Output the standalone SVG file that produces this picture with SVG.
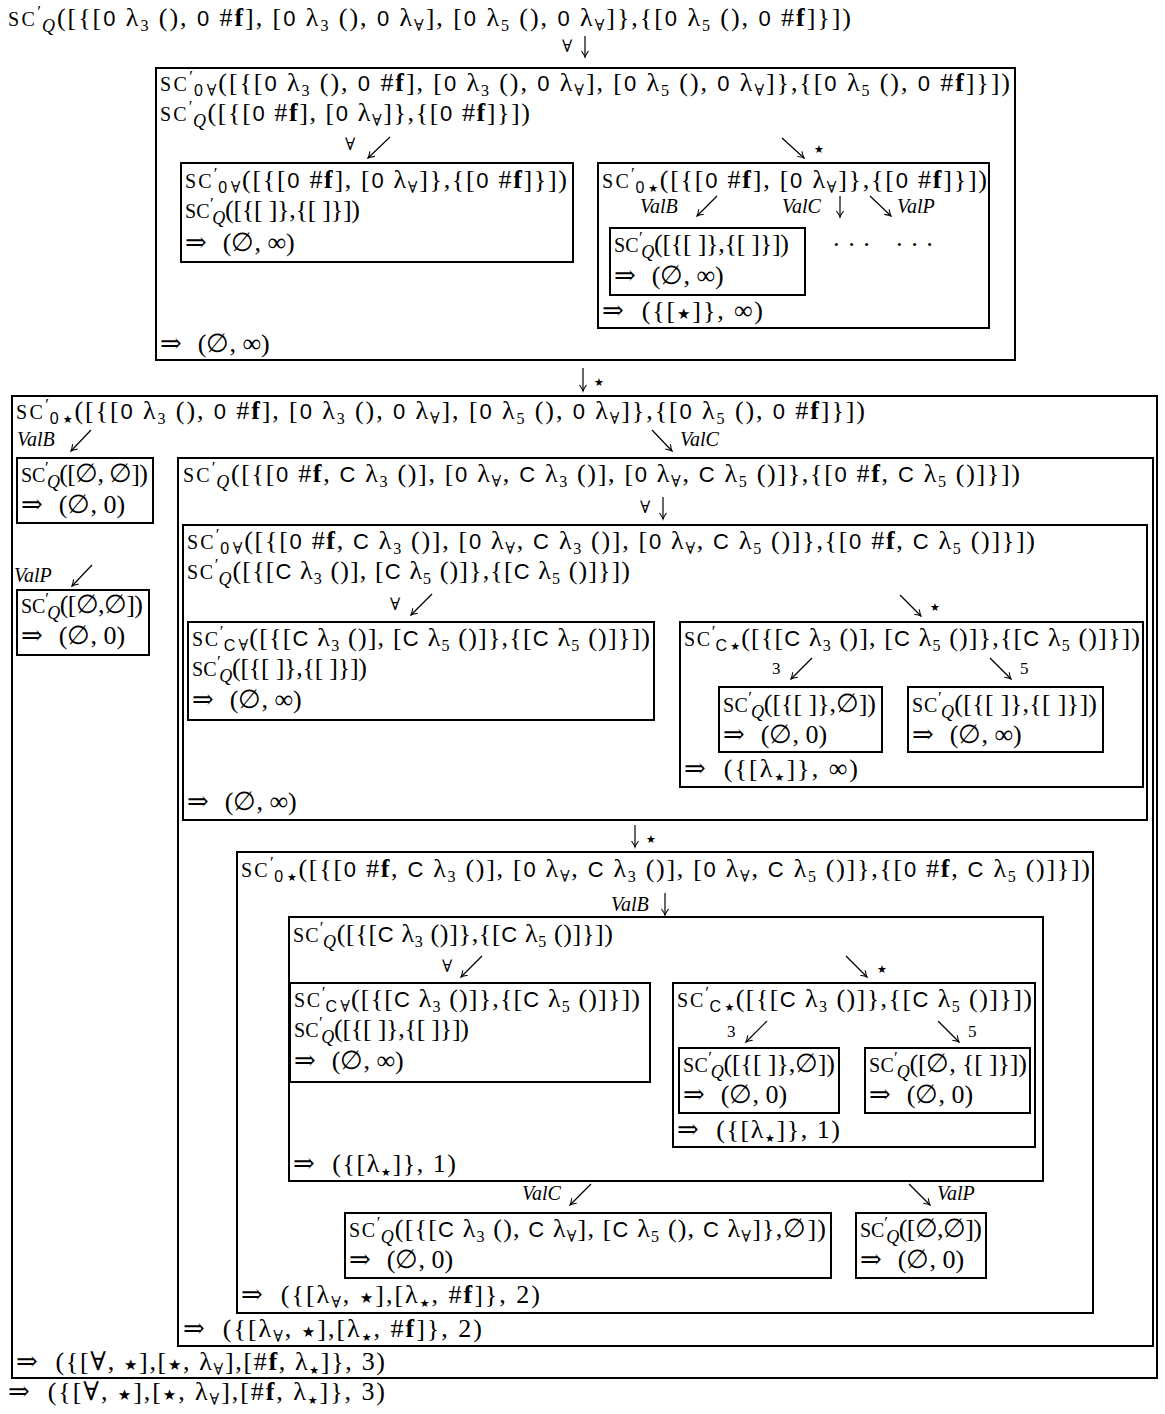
<svg xmlns="http://www.w3.org/2000/svg" width="1165" height="1414" viewBox="0 0 1165 1414">
<style>
.m{font-family:"Liberation Serif","DejaVu Serif",serif;font-size:26px;fill:#000}
.sc{font-size:20px;letter-spacing:0.5px}
.pr{font-size:17px;baseline-shift:9px}
.q{font-size:18px;font-style:italic;baseline-shift:-6px}
.lo{font-size:16px;baseline-shift:-5px}
.sf{font-family:"Liberation Sans","DejaVu Sans",sans-serif;font-size:22px}
.ls{font-family:"Liberation Sans","DejaVu Sans",sans-serif;font-size:16px;baseline-shift:-5px}
.st{font-family:"DejaVu Sans",sans-serif;font-size:15px}
.los{font-family:"DejaVu Sans",sans-serif;font-size:11px;baseline-shift:-4px}
.b{font-weight:bold}
.lb{font-family:"Liberation Serif","DejaVu Serif",serif;font-size:17px;fill:#000}
.ls2{font-family:"DejaVu Sans",sans-serif;font-size:11px;fill:#000}
.it{font-style:italic;font-size:20px}
.bx{fill:none;stroke:#000;stroke-width:2}
.ar{fill:none;stroke:#000;stroke-width:1.2;marker-end:url(#ah)}
</style>
<defs>
<marker id="ah" viewBox="-8 -5 10 10" refX="0" refY="0" markerWidth="10" markerHeight="10" markerUnits="userSpaceOnUse" orient="auto">
<path d="M-6,-3.5 Q-2,-0.6 0,0 Q-2,0.6 -6,3.5" fill="none" stroke="#000" stroke-width="1.1"/>
</marker>
</defs>
<rect width="1165" height="1414" fill="#fff"/>

<g id="root">
<text class="m" x="8" y="26" textLength="843"><tspan class="sc">SC</tspan><tspan class="pr">′</tspan><tspan class="q" dx="-1">Q</tspan>([{[<tspan class="sf">0</tspan> λ<tspan class="lo">3</tspan> (), <tspan class="sf">0</tspan> #<tspan class="b">f</tspan>], [<tspan class="sf">0</tspan> λ<tspan class="lo">3</tspan> (), <tspan class="sf">0</tspan> λ<tspan class="lo">∀</tspan>], [<tspan class="sf">0</tspan> λ<tspan class="lo">5</tspan> (), <tspan class="sf">0</tspan> λ<tspan class="lo">∀</tspan>]},{[<tspan class="sf">0</tspan> λ<tspan class="lo">5</tspan> (), <tspan class="sf">0</tspan> #<tspan class="b">f</tspan>]}])</text>
</g>

<g id="nodeA">
<rect class="bx" x="156" y="68" width="859" height="292"/>
<text class="m" x="160" y="91" textLength="850"><tspan class="sc">SC</tspan><tspan class="pr">′</tspan><tspan class="ls" dx="-1">0</tspan><tspan class="lo" dx="2">∀</tspan>([{[<tspan class="sf">0</tspan> λ<tspan class="lo">3</tspan> (), <tspan class="sf">0</tspan> #<tspan class="b">f</tspan>], [<tspan class="sf">0</tspan> λ<tspan class="lo">3</tspan> (), <tspan class="sf">0</tspan> λ<tspan class="lo">∀</tspan>], [<tspan class="sf">0</tspan> λ<tspan class="lo">5</tspan> (), <tspan class="sf">0</tspan> λ<tspan class="lo">∀</tspan>]},{[<tspan class="sf">0</tspan> λ<tspan class="lo">5</tspan> (), <tspan class="sf">0</tspan> #<tspan class="b">f</tspan>]}])</text>
<text class="m" x="160" y="121" textLength="370"><tspan class="sc">SC</tspan><tspan class="pr">′</tspan><tspan class="q" dx="-1">Q</tspan>([{[<tspan class="sf">0</tspan> #<tspan class="b">f</tspan>], [<tspan class="sf">0</tspan> λ<tspan class="lo">∀</tspan>]},{[<tspan class="sf">0</tspan> #<tspan class="b">f</tspan>]}])</text>
<text class="m" x="160" y="352">⇒<tspan dx="16">(∅, ∞)</tspan></text>
</g>

<g id="nodeA1">
<rect class="bx" x="181" y="163" width="392" height="99"/>
<text class="m" x="185" y="188" textLength="382"><tspan class="sc">SC</tspan><tspan class="pr">′</tspan><tspan class="ls" dx="-1">0</tspan><tspan class="lo" dx="2">∀</tspan>([{[<tspan class="sf">0</tspan> #<tspan class="b">f</tspan>], [<tspan class="sf">0</tspan> λ<tspan class="lo">∀</tspan>]},{[<tspan class="sf">0</tspan> #<tspan class="b">f</tspan>]}])</text>
<text class="m" x="185" y="218" textLength="175"><tspan class="sc">SC</tspan><tspan class="pr">′</tspan><tspan class="q" dx="-1">Q</tspan>([{[ ]},{[ ]}])</text>
<text class="m" x="185" y="251">⇒<tspan dx="16">(∅, ∞)</tspan></text>
</g>

<g id="nodeA2">
<rect class="bx" x="598" y="163" width="391" height="165"/>
<text class="m" x="602" y="188" textLength="385"><tspan class="sc">SC</tspan><tspan class="pr">′</tspan><tspan class="ls" dx="-1">0</tspan><tspan class="los" dx="2">★</tspan>([{[<tspan class="sf">0</tspan> #<tspan class="b">f</tspan>], [<tspan class="sf">0</tspan> λ<tspan class="lo">∀</tspan>]},{[<tspan class="sf">0</tspan> #<tspan class="b">f</tspan>]}])</text>
<text class="m" x="832" y="253">· · ·</text>
<text class="m" x="895" y="253">· · ·</text>
<text class="m" x="602" y="319" textLength="161">⇒<tspan dx="16">({[<tspan class="st">★</tspan>]}, ∞)</tspan></text>
</g>

<g id="nodeA2a">
<rect class="bx" x="610" y="228" width="195" height="67"/>
<text class="m" x="614" y="252" textLength="175"><tspan class="sc">SC</tspan><tspan class="pr">′</tspan><tspan class="q" dx="-1">Q</tspan>([{[ ]},{[ ]}])</text>
<text class="m" x="614" y="284">⇒<tspan dx="16">(∅, ∞)</tspan></text>
</g>

<g id="nodeB">
<rect class="bx" x="12" y="396" width="1145" height="982"/>
<text class="m" x="16" y="419" textLength="849"><tspan class="sc">SC</tspan><tspan class="pr">′</tspan><tspan class="ls" dx="-1">0</tspan><tspan class="los" dx="2">★</tspan>([{[<tspan class="sf">0</tspan> λ<tspan class="lo">3</tspan> (), <tspan class="sf">0</tspan> #<tspan class="b">f</tspan>], [<tspan class="sf">0</tspan> λ<tspan class="lo">3</tspan> (), <tspan class="sf">0</tspan> λ<tspan class="lo">∀</tspan>], [<tspan class="sf">0</tspan> λ<tspan class="lo">5</tspan> (), <tspan class="sf">0</tspan> λ<tspan class="lo">∀</tspan>]},{[<tspan class="sf">0</tspan> λ<tspan class="lo">5</tspan> (), <tspan class="sf">0</tspan> #<tspan class="b">f</tspan>]}])</text>
<text class="m" x="16" y="1370" textLength="369">⇒<tspan dx="16">({[∀, <tspan class="st">★</tspan>],[<tspan class="st">★</tspan>, λ<tspan class="lo">∀</tspan>],[#<tspan class="b">f</tspan>, λ<tspan class="los">★</tspan>]}, 3)</tspan></text>
</g>

<g id="nodeB1">
<rect class="bx" x="17" y="458" width="136" height="65"/>
<text class="m" x="21" y="482" textLength="127"><tspan class="sc">SC</tspan><tspan class="pr">′</tspan><tspan class="q" dx="-1">Q</tspan>([∅, ∅])</text>
<text class="m" x="21" y="513">⇒<tspan dx="16">(∅, 0)</tspan></text>
</g>

<g id="nodeB2">
<rect class="bx" x="17" y="590" width="132" height="65"/>
<text class="m" x="21" y="613" textLength="122"><tspan class="sc">SC</tspan><tspan class="pr">′</tspan><tspan class="q" dx="-1">Q</tspan>([∅,∅])</text>
<text class="m" x="21" y="644">⇒<tspan dx="16">(∅, 0)</tspan></text>
</g>

<g id="nodeC">
<rect class="bx" x="178" y="458" width="975" height="888"/>
<text class="m" x="183" y="482" textLength="837"><tspan class="sc">SC</tspan><tspan class="pr">′</tspan><tspan class="q" dx="-1">Q</tspan>([{[<tspan class="sf">0</tspan> #<tspan class="b">f</tspan>, <tspan class="sf">C</tspan> λ<tspan class="lo">3</tspan> ()], [<tspan class="sf">0</tspan> λ<tspan class="lo">∀</tspan>, <tspan class="sf">C</tspan> λ<tspan class="lo">3</tspan> ()], [<tspan class="sf">0</tspan> λ<tspan class="lo">∀</tspan>, <tspan class="sf">C</tspan> λ<tspan class="lo">5</tspan> ()]},{[<tspan class="sf">0</tspan> #<tspan class="b">f</tspan>, <tspan class="sf">C</tspan> λ<tspan class="lo">5</tspan> ()]}])</text>
<text class="m" x="183" y="1337" textLength="299">⇒<tspan dx="16">({[λ<tspan class="lo">∀</tspan>, <tspan class="st">★</tspan>],[λ<tspan class="los">★</tspan>, #<tspan class="b">f</tspan>]}, 2)</tspan></text>
</g>

<g id="nodeC1">
<rect class="bx" x="183" y="525" width="964" height="295"/>
<text class="m" x="187" y="549" textLength="848"><tspan class="sc">SC</tspan><tspan class="pr">′</tspan><tspan class="ls" dx="-1">0</tspan><tspan class="lo" dx="2">∀</tspan>([{[<tspan class="sf">0</tspan> #<tspan class="b">f</tspan>, <tspan class="sf">C</tspan> λ<tspan class="lo">3</tspan> ()], [<tspan class="sf">0</tspan> λ<tspan class="lo">∀</tspan>, <tspan class="sf">C</tspan> λ<tspan class="lo">3</tspan> ()], [<tspan class="sf">0</tspan> λ<tspan class="lo">∀</tspan>, <tspan class="sf">C</tspan> λ<tspan class="lo">5</tspan> ()]},{[<tspan class="sf">0</tspan> #<tspan class="b">f</tspan>, <tspan class="sf">C</tspan> λ<tspan class="lo">5</tspan> ()]}])</text>
<text class="m" x="187" y="579" textLength="443"><tspan class="sc">SC</tspan><tspan class="pr">′</tspan><tspan class="q" dx="-1">Q</tspan>([{[<tspan class="sf">C</tspan> λ<tspan class="lo">3</tspan> ()], [<tspan class="sf">C</tspan> λ<tspan class="lo">5</tspan> ()]},{[<tspan class="sf">C</tspan> λ<tspan class="lo">5</tspan> ()]}])</text>
<text class="m" x="187" y="810">⇒<tspan dx="16">(∅, ∞)</tspan></text>
</g>

<g id="nodeC1a">
<rect class="bx" x="188" y="622" width="466" height="98"/>
<text class="m" x="192" y="646" textLength="458"><tspan class="sc">SC</tspan><tspan class="pr">′</tspan><tspan class="ls" dx="-1">C</tspan><tspan class="lo" dx="2">∀</tspan>([{[<tspan class="sf">C</tspan> λ<tspan class="lo">3</tspan> ()], [<tspan class="sf">C</tspan> λ<tspan class="lo">5</tspan> ()]},{[<tspan class="sf">C</tspan> λ<tspan class="lo">5</tspan> ()]}])</text>
<text class="m" x="192" y="676" textLength="175"><tspan class="sc">SC</tspan><tspan class="pr">′</tspan><tspan class="q" dx="-1">Q</tspan>([{[ ]},{[ ]}])</text>
<text class="m" x="192" y="708">⇒<tspan dx="16">(∅, ∞)</tspan></text>
</g>

<g id="nodeC1b">
<rect class="bx" x="680" y="622" width="463" height="165"/>
<text class="m" x="684" y="646" textLength="456"><tspan class="sc">SC</tspan><tspan class="pr">′</tspan><tspan class="ls" dx="-1">C</tspan><tspan class="los" dx="2">★</tspan>([{[<tspan class="sf">C</tspan> λ<tspan class="lo">3</tspan> ()], [<tspan class="sf">C</tspan> λ<tspan class="lo">5</tspan> ()]},{[<tspan class="sf">C</tspan> λ<tspan class="lo">5</tspan> ()]}])</text>
<text class="m" x="684" y="777" textLength="174">⇒<tspan dx="16">({[λ<tspan class="los">★</tspan>]}, ∞)</tspan></text>
</g>

<g id="nodeC1b1">
<rect class="bx" x="719" y="687" width="163" height="65"/>
<text class="m" x="723" y="712" textLength="153"><tspan class="sc">SC</tspan><tspan class="pr">′</tspan><tspan class="q" dx="-1">Q</tspan>([{[ ]},∅])</text>
<text class="m" x="723" y="743">⇒<tspan dx="16">(∅, 0)</tspan></text>
</g>

<g id="nodeC1b2">
<rect class="bx" x="908" y="687" width="195" height="65"/>
<text class="m" x="912" y="712" textLength="185"><tspan class="sc">SC</tspan><tspan class="pr">′</tspan><tspan class="q" dx="-1">Q</tspan>([{[ ]},{[ ]}])</text>
<text class="m" x="912" y="743">⇒<tspan dx="16">(∅, ∞)</tspan></text>
</g>

<g id="nodeD">
<rect class="bx" x="237" y="852" width="856" height="461"/>
<text class="m" x="241" y="877" textLength="849"><tspan class="sc">SC</tspan><tspan class="pr">′</tspan><tspan class="ls" dx="-1">0</tspan><tspan class="los" dx="2">★</tspan>([{[<tspan class="sf">0</tspan> #<tspan class="b">f</tspan>, <tspan class="sf">C</tspan> λ<tspan class="lo">3</tspan> ()], [<tspan class="sf">0</tspan> λ<tspan class="lo">∀</tspan>, <tspan class="sf">C</tspan> λ<tspan class="lo">3</tspan> ()], [<tspan class="sf">0</tspan> λ<tspan class="lo">∀</tspan>, <tspan class="sf">C</tspan> λ<tspan class="lo">5</tspan> ()]},{[<tspan class="sf">0</tspan> #<tspan class="b">f</tspan>, <tspan class="sf">C</tspan> λ<tspan class="lo">5</tspan> ()]}])</text>
<text class="m" x="241" y="1303" textLength="299">⇒<tspan dx="16">({[λ<tspan class="lo">∀</tspan>, <tspan class="st">★</tspan>],[λ<tspan class="los">★</tspan>, #<tspan class="b">f</tspan>]}, 2)</tspan></text>
</g>

<g id="nodeD1">
<rect class="bx" x="289" y="917" width="754" height="264"/>
<text class="m" x="293" y="942" textLength="320"><tspan class="sc">SC</tspan><tspan class="pr">′</tspan><tspan class="q" dx="-1">Q</tspan>([{[<tspan class="sf">C</tspan> λ<tspan class="lo">3</tspan> ()]},{[<tspan class="sf">C</tspan> λ<tspan class="lo">5</tspan> ()]}])</text>
<text class="m" x="293" y="1172" textLength="163">⇒<tspan dx="16">({[λ<tspan class="los">★</tspan>]}, 1)</tspan></text>
</g>

<g id="nodeD1a">
<rect class="bx" x="290" y="983" width="360" height="99"/>
<text class="m" x="294" y="1007" textLength="346"><tspan class="sc">SC</tspan><tspan class="pr">′</tspan><tspan class="ls" dx="-1">C</tspan><tspan class="lo" dx="2">∀</tspan>([{[<tspan class="sf">C</tspan> λ<tspan class="lo">3</tspan> ()]},{[<tspan class="sf">C</tspan> λ<tspan class="lo">5</tspan> ()]}])</text>
<text class="m" x="294" y="1037" textLength="175"><tspan class="sc">SC</tspan><tspan class="pr">′</tspan><tspan class="q" dx="-1">Q</tspan>([{[ ]},{[ ]}])</text>
<text class="m" x="294" y="1069">⇒<tspan dx="16">(∅, ∞)</tspan></text>
</g>

<g id="nodeD1b">
<rect class="bx" x="673" y="983" width="362" height="164"/>
<text class="m" x="677" y="1007" textLength="355"><tspan class="sc">SC</tspan><tspan class="pr">′</tspan><tspan class="ls" dx="-1">C</tspan><tspan class="los" dx="2">★</tspan>([{[<tspan class="sf">C</tspan> λ<tspan class="lo">3</tspan> ()]},{[<tspan class="sf">C</tspan> λ<tspan class="lo">5</tspan> ()]}])</text>
<text class="m" x="677" y="1138" textLength="163">⇒<tspan dx="16">({[λ<tspan class="los">★</tspan>]}, 1)</tspan></text>
</g>

<g id="nodeD1b1">
<rect class="bx" x="679" y="1048" width="160" height="65"/>
<text class="m" x="683" y="1072" textLength="152"><tspan class="sc">SC</tspan><tspan class="pr">′</tspan><tspan class="q" dx="-1">Q</tspan>([{[ ]},∅])</text>
<text class="m" x="683" y="1103">⇒<tspan dx="16">(∅, 0)</tspan></text>
</g>

<g id="nodeD1b2">
<rect class="bx" x="865" y="1048" width="165" height="65"/>
<text class="m" x="869" y="1072" textLength="158"><tspan class="sc">SC</tspan><tspan class="pr">′</tspan><tspan class="q" dx="-1">Q</tspan>([∅, {[ ]}])</text>
<text class="m" x="869" y="1103">⇒<tspan dx="16">(∅, 0)</tspan></text>
</g>

<g id="nodeD2">
<rect class="bx" x="345" y="1213" width="486" height="65"/>
<text class="m" x="349" y="1237" textLength="477"><tspan class="sc">SC</tspan><tspan class="pr">′</tspan><tspan class="q" dx="-1">Q</tspan>([{[<tspan class="sf">C</tspan> λ<tspan class="lo">3</tspan> (), <tspan class="sf">C</tspan> λ<tspan class="lo">∀</tspan>], [<tspan class="sf">C</tspan> λ<tspan class="lo">5</tspan> (), <tspan class="sf">C</tspan> λ<tspan class="lo">∀</tspan>]},∅])</text>
<text class="m" x="349" y="1268">⇒<tspan dx="16">(∅, 0)</tspan></text>
</g>

<g id="nodeD3">
<rect class="bx" x="856" y="1213" width="130" height="65"/>
<text class="m" x="860" y="1237" textLength="122"><tspan class="sc">SC</tspan><tspan class="pr">′</tspan><tspan class="q" dx="-1">Q</tspan>([∅,∅])</text>
<text class="m" x="860" y="1268">⇒<tspan dx="16">(∅, 0)</tspan></text>
</g>

<g id="result">
<text class="m" x="8" y="1400" textLength="377">⇒<tspan dx="16">({[∀, <tspan class="st">★</tspan>],[<tspan class="st">★</tspan>, λ<tspan class="lo">∀</tspan>],[#<tspan class="b">f</tspan>, λ<tspan class="los">★</tspan>]}, 3)</tspan></text>
</g>

<g id="connectors">
<path class="ar" d="M585,36 L585,57"/><text class="lb" x="562" y="52">∀</text>
<path class="ar" d="M390,137 L368,158"/><text class="lb" x="345" y="150">∀</text>
<path class="ar" d="M782,138 L804,158"/><text class="ls2" x="814" y="153">★</text>
<path class="ar" d="M717,196 L697,216"/><text class="lb it" x="640" y="213">ValB</text>
<path class="ar" d="M840,196 L840,217"/><text class="lb it" x="782" y="213">ValC</text>
<path class="ar" d="M870,196 L891,216"/><text class="lb it" x="897" y="213">ValP</text>
<path class="ar" d="M583,368 L583,391"/><text class="ls2" x="594" y="386">★</text>
<path class="ar" d="M91,430 L71,451"/><text class="lb it" x="17" y="446">ValB</text>
<path class="ar" d="M652,430 L672,451"/><text class="lb it" x="680" y="446">ValC</text>
<path class="ar" d="M92,565 L72,586"/><text class="lb it" x="14" y="582">ValP</text>
<path class="ar" d="M663,497 L663,519"/><text class="lb" x="640" y="513">∀</text>
<path class="ar" d="M432,594 L411,615"/><text class="lb" x="390" y="610">∀</text>
<path class="ar" d="M900,595 L921,616"/><text class="ls2" x="930" y="611">★</text>
<path class="ar" d="M812,658 L791,679"/><text class="lb" x="772" y="674">3</text>
<path class="ar" d="M990,658 L1011,679"/><text class="lb" x="1020" y="674">5</text>
<path class="ar" d="M635,825 L635,847"/><text class="ls2" x="646" y="843">★</text>
<path class="ar" d="M665,893 L665,915"/><text class="lb it" x="611" y="911">ValB</text>
<path class="ar" d="M482,956 L461,977"/><text class="lb" x="442" y="972">∀</text>
<path class="ar" d="M846,956 L867,977"/><text class="ls2" x="877" y="973">★</text>
<path class="ar" d="M767,1021 L746,1042"/><text class="lb" x="727" y="1037">3</text>
<path class="ar" d="M938,1021 L959,1042"/><text class="lb" x="968" y="1037">5</text>
<path class="ar" d="M591,1184 L570,1205"/><text class="lb it" x="522" y="1200">ValC</text>
<path class="ar" d="M909,1184 L930,1205"/><text class="lb it" x="937" y="1200">ValP</text>
</g>
</svg>
